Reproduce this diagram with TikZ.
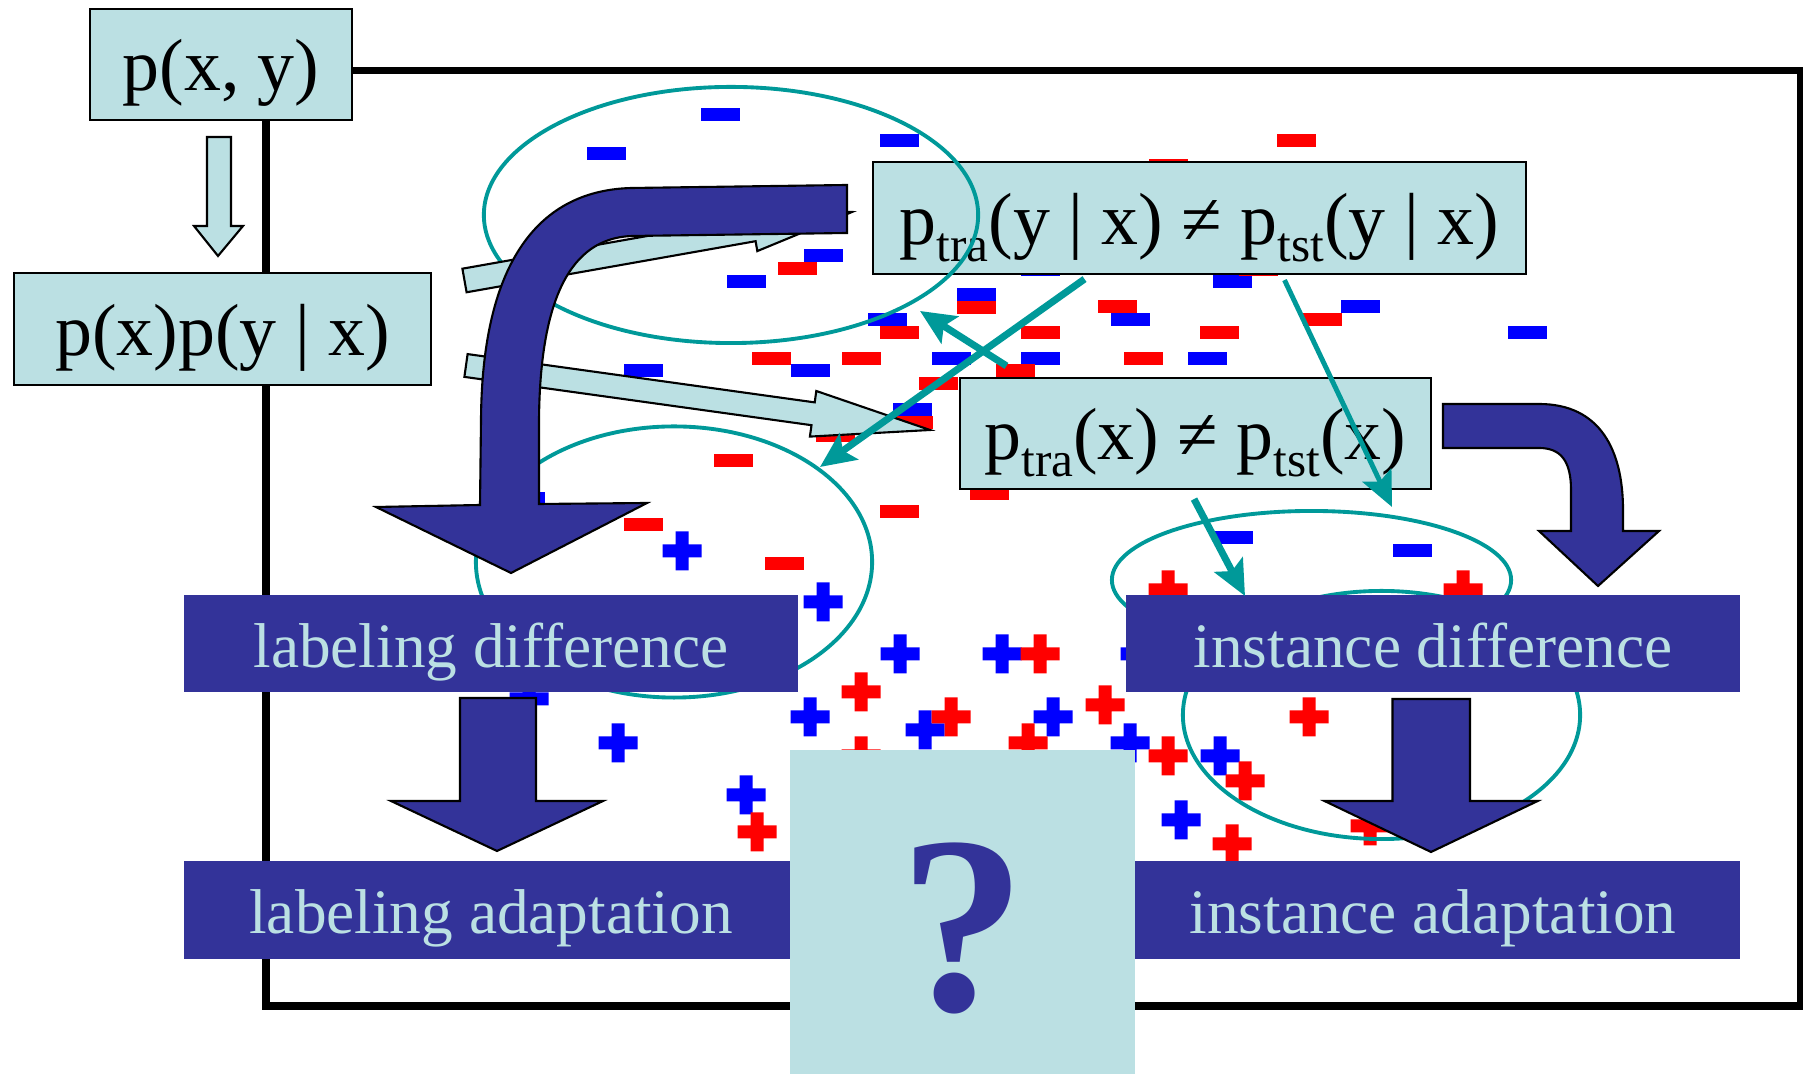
\documentclass[tikz,border=0pt]{standalone}
\usepackage{fontspec}
\setmainfont{Liberation Serif}
\usepackage{tikz}
\usetikzlibrary{shapes.geometric, arrows.meta}
\definecolor{lcyan}{RGB}{187,224,227}
\definecolor{dblue}{RGB}{51,51,153}
\definecolor{ovalc}{RGB}{0,153,153}
\newcommand{\lsub}[1]{\raisebox{-4.9pt}{\fontsize{14}{14}\selectfont #1}}

\begin{document}
\begin{tikzpicture}[x=0.01cm, y=-0.01cm,
    lbox/.style={draw, line width=0.6pt, fill=lcyan, inner sep=0pt, text height=15pt, text depth=0.2pt, font=\fontsize{21}{21}\selectfont},
    dbox/.style={fill=dblue, text=lcyan, inner sep=0pt, minimum width=6.14cm, minimum height=0.97cm, text height=13.6pt, text depth=0.2pt, font=\fontsize{18}{18}\selectfont},
    oval/.style={draw=ovalc, line width=1.1pt, ellipse, inner sep=0pt},
    block/.style={draw, line width=0.6pt, fill=lcyan},
    bigarrow/.style={draw, line width=0.6pt, fill=dblue},
    arrow/.style={draw=ovalc, line width=2pt, -{Stealth[length=10pt, width=9pt, inset=2pt]}}
]
    \useasboundingbox (0,0) rectangle (1803,1074);

    % Frame
    \draw[line width=2pt] (266,70.5) rectangle (1800,1006);

    % Data points
    \foreach \x/\y in {720/115, 606/154, 899/141, 823/256, 746/282, 887/320, 810/371, 951/359, 643/371, 912/410, 525/499, 1040/270, 1232/282, 976/295, 1130/320, 1360/307, 1527/333, 1040/359, 1207/359, 1233/538, 1412/551}
        \fill[blue] (\x-19.5,\y-6.5) rectangle ++(39,13);
    \foreach \x/\y in {797/269, 899/333, 771/359, 861/359, 938/384, 913/423, 835/436, 733/461, 1296/141, 1168/166, 1258/270, 976/308, 1117/307, 1322/320, 1040/333, 1219/333, 1143/359, 1015/371, 978/435, 989/494, 899/512, 643/525, 784/564}
        \fill[red] (\x-19.5,\y-6.5) rectangle ++(39,13);
    \foreach \x/\y in {682/551, 823/602, 900/654, 810/717, 925/730, 618/743, 746/795, 529/699, 1002/654, 1140/654, 1053/717, 1130/743, 1220/756, 1181/820}
        \fill[blue] (\x-19.5,\y-6.5) rectangle ++(39,13) (\x-6.5,\y-19.5) rectangle ++(13,39);
    \foreach \x/\y in {861/692, 951/717, 861/756, 757/832, 1040/654, 1105/705, 1028/743, 1168/756, 1245/781, 1309/717, 1232/844, 1370/826, 1168/590, 1463/590}
        \fill[red] (\x-19.5,\y-6.5) rectangle ++(39,13) (\x-6.5,\y-19.5) rectangle ++(13,39);

    % Differences
    \node[lbox, minimum width=6.53cm, minimum height=1.12cm] (cond) at (1199.5,218) {p\lsub{tra}(y | x) ≠ p\lsub{tst}(y | x)};
    \node[lbox, minimum width=4.71cm, minimum height=1.11cm] (marg) at (1195.5,433.5) {p\lsub{tra}(x) ≠ p\lsub{tst}(x)};

    % Regions
    \node[oval, minimum width=4.94cm, minimum height=2.56cm] (upper) at (731,215) {};
    \node[oval, minimum width=3.96cm, minimum height=2.71cm] (lower) at (674,562) {};
    \node[oval, minimum width=3.99cm, minimum height=1.38cm] (trainset) at (1311.5,580) {};
    \node[oval, minimum width=3.97cm, minimum height=2.48cm] (testset) at (1381.5,715) {};

    % Light arrows
    \draw[block] (462.4,268.7) -- (751.4,217.6) -- (749.7,207.7) -- (852,212) -- (757.3,251.1) -- (755.6,241.2) -- (466.6,292.3) -- cycle;
    \draw[block] (467.6,354.1) -- (814.7,402.4) -- (816.3,391) -- (930,430) -- (809.9,436.6) -- (811.5,425.2) -- (464.4,376.9) -- cycle;

    % Bent arrows
    \draw[bigarrow] (847,185) -- (632,188) .. controls (540,190) and (482,260) .. (481,420) -- (480,505) -- (376,507) -- (511,573) -- (647,503) -- (539,504) -- (539,420) .. controls (540,300) and (570,238) .. (632,236) -- (847,233) -- cycle;
    \draw[bigarrow] (1443,404) -- (1539,404) .. controls (1600,404) and (1623,450) .. (1623,510) -- (1623,531) -- (1659,531) -- (1598,586) -- (1539,531) -- (1571,531) -- (1571,490) .. controls (1571,460) and (1560,448) .. (1539,448) -- (1443,448) -- cycle;

    % Nodes
    \node[lbox, minimum width=2.62cm, minimum height=1.11cm] (joint) at (221,64.5) {p(x, y)};
    \node[lbox, minimum width=4.17cm, minimum height=1.12cm] (factor) at (222.5,329) {p(x)p(y | x)};
    \node[dbox] (labdiff) at (491,643.5) {labeling difference};
    \node[dbox] (labadapt) at (491,910) {labeling adaptation};
    \node[dbox] (insdiff) at (1433,643.5) {instance difference};
    \node[dbox] (insadapt) at (1433,910) {instance adaptation};

    \draw[block] (207,137) -- (231,137) -- (231,226) -- (243,226) -- (218,256) -- (194,226) -- (207,226) -- cycle;
    \draw[bigarrow] (460,698) -- (536,698) -- (536,801) -- (603,801) -- (497,851) -- (391,801) -- (460,801) -- cycle;
    \draw[bigarrow] (1392.5,699) -- (1470,699) -- (1470,801) -- (1537.7,801) -- (1431,852) -- (1324.5,801) -- (1392.5,801) -- cycle;

    \node[fill=lcyan, inner sep=0pt, minimum width=3.45cm, minimum height=3.24cm, text=dblue, text height=56pt, text depth=0.2pt, font=\fontsize{72}{72}\selectfont\bfseries] (unknown) at (962.5,912) {?};

    % Connections
    \coordinate (t1) at (820,467);
    \coordinate (t2) at (920,311);
    \coordinate (t3) at (1392,507);
    \coordinate (t4) at (1245,596);
    \draw[arrow] ([shift={(-115,4)}]cond.south) -- (t1);
    \draw[arrow] ([shift={(-189,-11)}]marg.north) -- (t2);
    \draw[arrow, line width=1.4pt] ([shift={(85,5)}]cond.south) -- (t3);
    \draw[arrow] ([shift={(-1.5,9)}]marg.south) -- (t4);
\end{tikzpicture}
\end{document}
